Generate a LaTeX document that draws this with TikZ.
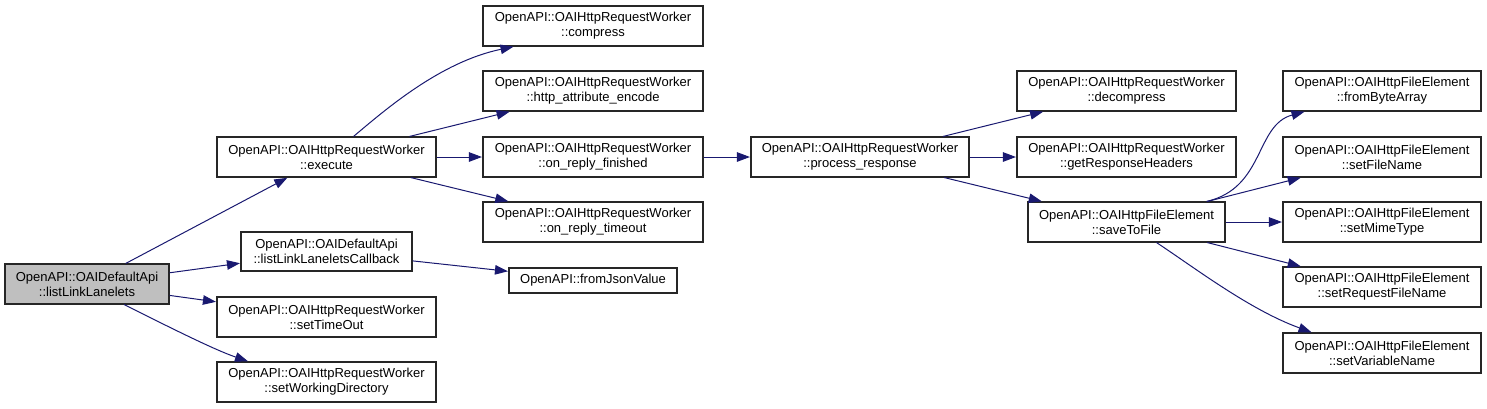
\documentclass[tikz,border=0pt]{standalone}
\usepackage{fontspec}
\setmainfont{Liberation Sans}
\usetikzlibrary{arrows.meta,calc}
\definecolor{edgecol}{HTML}{191970}
\definecolor{rootfill}{HTML}{BFBFBF}
\tikzset{
  fn/.style={draw=black!85, line width=1.1pt, fill=white, inner sep=0pt, align=center,
    font=\fontsize{13pt}{15pt}\selectfont, minimum height=40pt},
  wide/.style={fn, minimum width=219pt},
  fel/.style={fn, minimum width=198pt},
  root/.style={fn, fill=rootfill, minimum width=164pt},
  call/.style={draw=edgecol, line width=1pt, -{Triangle[length=13pt,width=9.5pt]}, shorten >=0.5pt},
}
\begin{document}
\begin{tikzpicture}[x=1pt,y=-1pt]
\useasboundingbox (0,0) rectangle (1487,408);
\node[root] (lll) at (87,284) {OpenAPI::OAIDefaultApi\\::listLinkLanelets};
\node[wide] (exe) at (326.5,157) {OpenAPI::OAIHttpRequestWorker\\::execute};
\node[fn, minimum width=171pt, minimum height=39pt] (cb) at (326.5,251.5) {OpenAPI::OAIDefaultApi\\::listLinkLaneletsCallback};
\node[wide] (sto) at (326.5,317) {OpenAPI::OAIHttpRequestWorker\\::setTimeOut};
\node[wide] (swd) at (326.5,382) {OpenAPI::OAIHttpRequestWorker\\::setWorkingDirectory};
\node[wide, minimum width=220pt] (comp) at (593,26) {OpenAPI::OAIHttpRequestWorker\\::compress};
\node[wide, minimum width=220pt] (hae) at (593,91) {OpenAPI::OAIHttpRequestWorker\\::http\_attribute\_encode};
\node[wide, minimum width=220pt] (orf) at (593,157) {OpenAPI::OAIHttpRequestWorker\\::on\_reply\_finished};
\node[wide, minimum width=220pt] (ort) at (593,222) {OpenAPI::OAIHttpRequestWorker\\::on\_reply\_timeout};
\node[fn, minimum width=168pt, minimum height=25pt] (fjv) at (593,280.5) {OpenAPI::fromJsonValue};
\node[wide, minimum width=218pt] (pr) at (860,157) {OpenAPI::OAIHttpRequestWorker\\::process\_response};
\node[wide] (dec) at (1126.5,91) {OpenAPI::OAIHttpRequestWorker\\::decompress};
\node[wide] (grh) at (1126.5,157) {OpenAPI::OAIHttpRequestWorker\\::getResponseHeaders};
\node[fn, minimum width=197pt] (stf) at (1126.5,222) {OpenAPI::OAIHttpFileElement\\::saveToFile};
\node[fel] (fba) at (1382,91) {OpenAPI::OAIHttpFileElement\\::fromByteArray};
\node[fel] (sfn) at (1382,157) {OpenAPI::OAIHttpFileElement\\::setFileName};
\node[fel] (smt) at (1382,222) {OpenAPI::OAIHttpFileElement\\::setMimeType};
\node[fel] (srfn) at (1382,287) {OpenAPI::OAIHttpFileElement\\::setRequestFileName};
\node[fel] (svn) at (1382,353) {OpenAPI::OAIHttpFileElement\\::setVariableName};

\draw[call] (lll) -- (exe);
\draw[call] (lll) -- (cb);
\draw[call] (lll) -- (sto);
\draw[call] ($(lll.south)+(37,0)$) .. controls (175,330) and (215,350) .. ($(swd.north)+(-78,0)$);
\draw[call] ($(exe.north)+(27,0)$) .. controls (385,110) and (440,62) .. ($(comp.south)+(-79,0)$);
\draw[call] (exe) -- (hae);
\draw[call] (exe) -- (orf);
\draw[call] (exe) -- (ort);
\draw[call] (cb) -- (fjv);
\draw[call] (orf) -- (pr);
\draw[call] (pr) -- (dec);
\draw[call] (pr) -- (grh);
\draw[call] (pr) -- (stf);
\draw[call] ($(stf.north)+(80,0)$) .. controls (1265,188) and (1255,125) .. ($(fba.south)+(-77,0)$);
\draw[call] (stf) -- (sfn);
\draw[call] (stf) -- (smt);
\draw[call] (stf) -- (srfn);
\draw[call] ($(stf.south)+(30,0)$) .. controls (1195,268) and (1250,310) .. ($(svn.north)+(-70,0)$);
\end{tikzpicture}
\end{document}
